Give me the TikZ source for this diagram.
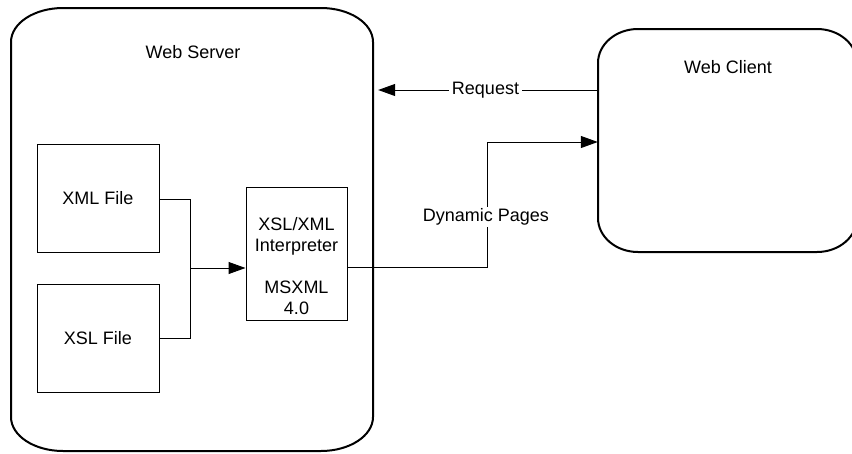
\documentclass[tikz,border=0pt]{standalone}
\usepackage{fontspec}
\setmainfont{Liberation Sans}
\usetikzlibrary{arrows.meta}
\newcommand\myellbox[6]{%
\draw[bigline] ({#1+#5},#2) -- ({#3-#5},#2)
 .. controls ({#3-0.4477*#5},#2) and (#3,{#2+0.4477*#6}) .. (#3,{#2+#6})
 -- (#3,{#4-#6})
 .. controls (#3,{#4-0.4477*#6}) and ({#3-0.4477*#5},#4) .. ({#3-#5},#4)
 -- ({#1+#5},#4)
 .. controls ({#1+0.4477*#5},#4) and (#1,{#4-0.4477*#6}) .. (#1,{#4-#6})
 -- (#1,{#2+#6})
 .. controls (#1,{#2+0.4477*#6}) and ({#1+0.4477*#5},#2) .. cycle;}
\tikzset{
  bigline/.style={line width=2pt, black},
  filebox/.style={draw, line width=1pt, inner sep=0pt, font=\fontsize{18}{21}\selectfont},
  lbl/.style={inner sep=0pt, font=\fontsize{18}{21}\selectfont},
  conn/.style={line width=1pt},
  arr/.style={conn, -{Triangle[length=17pt,width=12pt]}},
}
\begin{document}
\begin{tikzpicture}[x=1pt,y=-1pt]
\useasboundingbox (0,0) rectangle (852,453);
\clip (0,0) rectangle (852,453);
% containers
\node[inner sep=0pt, minimum width=362pt, minimum height=443pt] (server) at (192,229.5) {};
\node[inner sep=0pt, minimum width=259pt, minimum height=223pt] (client) at (727.5,140.5) {};
\myellbox{11}{8}{373}{451}{52}{34}
\myellbox{598}{29}{857}{252}{40}{34}
\node[lbl] (servertitle) at (193,52) {Web Server};
\node[lbl] (clienttitle) at (728,67) {Web Client};
% inner boxes
\node[filebox, minimum width=122pt, minimum height=108pt] (xml) at (98,198) {XML File};
\node[filebox, minimum width=122pt, minimum height=108pt] (xsl) at (98,338) {XSL File};
\node[filebox, minimum width=101pt, minimum height=133pt] (interp) at (296.5,253.5) {};
\node[lbl, align=center] (interptext) at (296.5,266.5) {XSL/XML\\Interpreter\\[21pt]MSXML\\4.0};
% connectors
\coordinate (m) at (190,268);
\draw[conn] (xml.east |- 0,199) -| (m);
\draw[conn] (xsl.east |- 0,338) -| (m);
\draw[arr] (m) -- (m -| interp.west);
\coordinate (d1) at (487,267);
\coordinate (d2) at (487,142);
\draw[arr] (interp.east |- d1) -- (d1) -- (d2) -- (d2 -| client.west);
\node[lbl, fill=white, inner sep=2pt] (dynlbl) at (486,217) {Dynamic Pages};
\coordinate (r) at (487,90);
\draw[arr, shorten >=5pt] (r -| client.west) -- (r -| server.east)
  node[midway, lbl, fill=white, inner xsep=3pt, inner ysep=2pt] (reqlbl) {Request};
\end{tikzpicture}
\end{document}
